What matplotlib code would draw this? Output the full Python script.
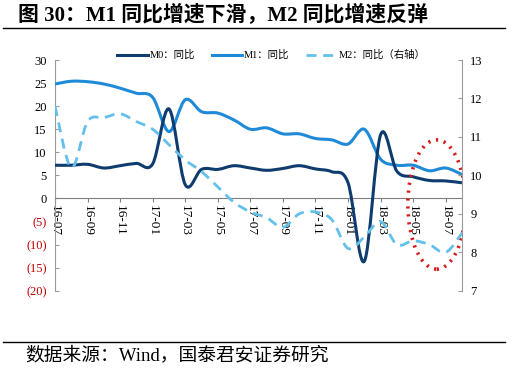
import matplotlib
matplotlib.use("Agg")
import matplotlib.pyplot as plt
from matplotlib.lines import Line2D
from matplotlib.patches import PathPatch, Ellipse
from matplotlib.path import Path

plt.rcParams["font.family"] = ["Liberation Serif", "Noto Sans CJK SC"]

# monthly points, label shown every 2 months
tick_labels = ["16-07", "16-09", "16-11", "17-01", "17-03", "17-05", "17-07",
               "17-09", "17-11", "18-01", "18-03", "18-05", "18-07"]
m0 = [7.2, 7.2, 7.4, 6.6, 7.1, 7.6, 7.5, 19.4, 3.0, 6.3, 6.3, 7.1, 6.6,
      6.1, 6.5, 7.1, 6.4, 5.8, 3.4, -13.6, 13.8, 5.9, 4.7, 3.9, 3.8, 3.4]
m1 = [24.8, 25.4, 25.3, 24.8, 23.9, 22.8, 21.9, 14.5, 21.4, 18.8, 18.5, 17.0, 15.0,
      15.3, 14.0, 14.0, 13.0, 12.7, 11.8, 15.0, 8.5, 7.2, 7.2, 6.0, 6.6, 5.2]
m2 = [11.8, 10.2, 11.4, 11.5, 11.6, 11.4, 11.2, 10.8, 10.4, 10.1, 9.7, 9.3, 9.05,
      8.9, 8.65, 9.0, 9.05, 8.85, 8.1, 8.4, 8.8, 8.2, 8.3, 8.2, 8.0, 8.5]
left_ticks = [30, 25, 20, 15, 10, 5, 0, -5, -10, -15, -20]
right_ticks = [7, 8, 9, 10, 11, 12, 13]

C_M0 = "#0f3c6e"
C_M1 = "#1f8ad8"
C_M2 = "#62c0ea"
GRAY = "#9a9a9a"


def smooth_path(ys):
    # excel-like smoothed line: bezier through every point
    xs = list(range(len(ys)))
    n = len(xs)
    verts = [(xs[0], ys[0])]
    codes = [Path.MOVETO]
    for i in range(n - 1):
        a = max(i - 1, 0)
        b = min(i + 2, n - 1)
        c1 = (xs[i] + (xs[i + 1] - xs[a]) / 6, ys[i] + (ys[i + 1] - ys[a]) / 6)
        c2 = (xs[i + 1] - (xs[b] - xs[i]) / 6, ys[i + 1] - (ys[b] - ys[i]) / 6)
        verts += [c1, c2, (xs[i + 1], ys[i + 1])]
        codes += [Path.CURVE4] * 3
    return Path(verts, codes)


fig = plt.figure(figsize=(5.15, 3.72), dpi=100)
ax = fig.add_axes([0.1068, 0.2183, 0.7903, 0.6204])
ax2 = ax.twinx()

# spine position first: it resets the tick labels
for a in (ax, ax2):
    a.spines["top"].set_visible(False)
    a.spines["left"].set_color(GRAY)
    a.spines["right"].set_color(GRAY)
ax2.spines["bottom"].set_visible(False)
ax.spines["bottom"].set_position(("data", 0))
ax.spines["bottom"].set_color("#7f7f7f")
ax.spines["right"].set_visible(False)
ax2.spines["left"].set_visible(False)

ax.add_patch(PathPatch(smooth_path(m1), fill=False, edgecolor=C_M1, lw=2.2, zorder=3))
ax.add_patch(PathPatch(smooth_path(m0), fill=False, edgecolor=C_M0, lw=2.2, zorder=4))
ax2.add_patch(PathPatch(smooth_path(m2), fill=False, edgecolor=C_M2, lw=2.0,
                        linestyle=(0, (3.6, 2.4)), zorder=3))

ax.set_xlim(0, len(m0) - 1)
ax.set_ylim(-20, 30)
ax2.set_ylim(7, 13)

ax.set_yticks(left_ticks)
ax.set_yticklabels([str(v) if v >= 0 else "(%d)" % -v for v in left_ticks], fontsize=9)
for lab, v in zip(ax.get_yticklabels(), left_ticks):
    if v < 0:
        lab.set_color("#c00000")
ax2.set_yticks(right_ticks)
ax2.set_yticklabels([str(v) for v in right_ticks], fontsize=9)

ax.set_xticks(range(0, len(m0), 2))
ax.set_xticklabels(tick_labels, fontsize=9.5)

ax.tick_params(axis="y", direction="in", length=3, color=GRAY, pad=6)
ax2.tick_params(axis="y", direction="in", length=3, color=GRAY, pad=6)
ax.tick_params(axis="x", direction="out", length=3, color="#7f7f7f", pad=2,
               labelrotation=270)
for lab in ax.get_xticklabels():
    lab.set_va("top")
    lab.set_ha("center")

# red dotted circle around the last months
ax.add_patch(Ellipse((23.45, -1.3), 3.55, 28.0, fill=False, edgecolor="#d7191c",
                     linestyle=(0, (0.6, 1.6)), lw=2.6, zorder=5))

handles = [
    Line2D([], [], color=C_M0, lw=2.2),
    Line2D([], [], color=C_M1, lw=2.2),
    Line2D([], [], color=C_M2, lw=2.0, linestyle=(0, (3.6, 2.4))),
]
fig.legend(handles, ["M0：同比", "M1：同比", "M2：同比（右轴）"], loc="center",
           bbox_to_anchor=(0.527, 0.852), ncol=3, frameon=False, fontsize=7.5,
           handlelength=2.9, handletextpad=0.2, columnspacing=1.6)

fig.text(0.035, 0.962, "图 30：M1 同比增速下滑，M2 同比增速反弹", fontsize=15,
         fontweight="bold", va="center", ha="left")
fig.add_artist(Line2D([0.006, 0.98], [0.924, 0.924], color="black", lw=1))
fig.add_artist(Line2D([0.006, 0.98], [0.0815, 0.0815], color="black", lw=1))
fig.text(0.049, 0.044, "数据来源：Wind，国泰君安证券研究", fontsize=13.5,
         va="center", ha="left")

fig.savefig("out.png", dpi=100)
